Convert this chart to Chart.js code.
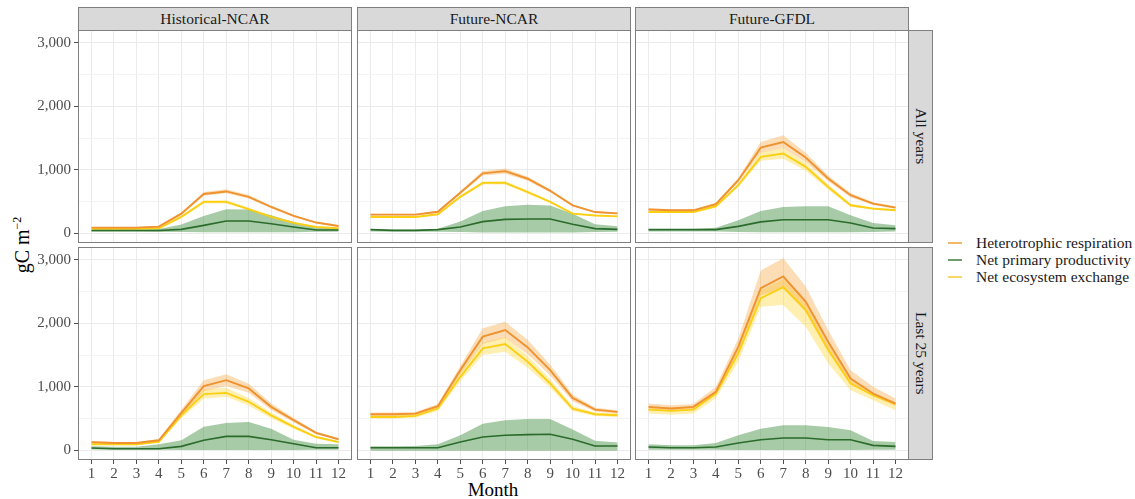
<!DOCTYPE html>
<html>
<head>
<meta charset="utf-8">
<script src="https://cdn.jsdelivr.net/npm/chart.js@4.4.1/dist/chart.umd.min.js"></script>
<style>
  body { margin: 0; background: #fff; font-family: 'Liberation Serif', serif; }
  #wrap { position: relative; width: 1135px; height: 499px; overflow: hidden; font-family: 'Liberation Serif', serif; }
  canvas { position: absolute; }
  .strip { position: absolute; box-sizing: border-box; background: #d9d9d9; border: 1px solid #7f7f7f;
           color: #1a1a1a; font-size: 15.5px; display: flex; align-items: center; justify-content: center; }
  .strip.side { writing-mode: vertical-rl; }
  .legend-item { position: absolute; left: 948px; height: 17px; display: flex; align-items: center;
                 font-family: 'Liberation Serif', serif; font-size: 15.5px; color: #1a1a1a; white-space: nowrap; }
  .legend-item span.key { display: inline-block; width: 14px; height: 2px; margin-right: 14px; }
</style>
</head>
<body>
<div id="wrap">
  <div id="ytitle" style="position:absolute;left:22px;top:245px;transform:translate(-50%,-50%) rotate(-90deg);font-size:20px;color:#000;white-space:nowrap;">gC m<sup style="font-size:12px;">&minus;2</sup></div>
  <div id="xtitle" style="position:absolute;left:493px;top:479px;transform:translateX(-50%);font-size:19px;color:#000;">Month</div>
</div>
<script>
const months = [1, 2, 3, 4, 5, 6, 7, 8, 9, 10, 11, 12];
const yMajor = [0, 1000, 2000, 3000];
const yMinor = [500, 1500, 2500];
const colTitles = ['Historical-NCAR', 'Future-NCAR', 'Future-GFDL'];
const rowTitles = ['All years', 'Last 25 years'];
const seriesNames = ['Heterotrophic respiration', 'Net primary productivity', 'Net ecosystem exchange'];

// Historical-NCAR, all years
const hrHistAll     = [90, 90, 90, 105, 310, 620, 660, 575, 415, 275, 170, 115];
const hrHistAllLo   = [80, 80, 80, 95, 290, 595, 630, 550, 395, 260, 160, 105];
const hrHistAllHi   = [100, 100, 100, 118, 330, 650, 695, 605, 440, 292, 182, 126];
const nppHistAll    = [45, 45, 45, 45, 63, 125, 195, 195, 150, 100, 53, 53];
const nppHistAllLo  = [25, 25, 25, 22, 20, 18, 18, 18, 18, 18, 25, 25];
const nppHistAllHi  = [58, 58, 58, 70, 140, 275, 380, 375, 285, 180, 90, 75];
const neeHistAll    = [70, 70, 70, 80, 260, 495, 495, 380, 260, 165, 100, 80];
const neeHistAllLo  = [60, 60, 60, 70, 240, 470, 470, 360, 245, 152, 90, 70];
const neeHistAllHi  = [80, 80, 80, 92, 280, 520, 520, 402, 276, 178, 110, 90];

// Future-NCAR, all years
const hrFutAll      = [295, 295, 295, 340, 640, 945, 980, 860, 670, 440, 335, 315];
const hrFutAllLo    = [282, 282, 282, 326, 615, 910, 940, 830, 648, 425, 322, 302];
const hrFutAllHi    = [308, 308, 308, 355, 665, 980, 1020, 892, 695, 456, 348, 328];
const nppFutAll     = [58, 47, 47, 58, 100, 185, 220, 226, 226, 142, 74, 63];
const nppFutAllLo   = [30, 25, 25, 25, 20, 15, 15, 15, 15, 15, 20, 25];
const nppFutAllHi   = [62, 55, 55, 74, 185, 350, 425, 450, 440, 310, 142, 110];
const neeFutAll     = [258, 258, 258, 300, 575, 795, 795, 650, 495, 310, 280, 268];
const neeFutAllLo   = [246, 246, 246, 288, 555, 770, 768, 628, 478, 298, 268, 256];
const neeFutAllHi   = [270, 270, 270, 314, 598, 822, 825, 674, 514, 324, 292, 280];

// Future-GFDL, all years
const hrGfdlAll     = [375, 363, 363, 458, 837, 1350, 1437, 1195, 863, 600, 468, 405];
const hrGfdlAllLo   = [358, 348, 348, 440, 805, 1270, 1340, 1120, 820, 570, 448, 388];
const hrGfdlAllHi   = [395, 380, 380, 480, 870, 1440, 1545, 1270, 910, 635, 490, 425];
const nppGfdlAll    = [58, 58, 58, 58, 110, 180, 215, 215, 215, 163, 84, 74];
const nppGfdlAllLo  = [30, 30, 30, 28, 22, 18, 16, 16, 16, 18, 22, 28];
const nppGfdlAllHi  = [68, 68, 68, 90, 205, 353, 416, 426, 426, 284, 163, 126];
const neeGfdlAll    = [337, 337, 337, 426, 758, 1205, 1258, 1047, 731, 442, 390, 363];
const neeGfdlAllLo  = [322, 322, 322, 408, 728, 1145, 1175, 985, 690, 420, 372, 346];
const neeGfdlAllHi  = [352, 352, 352, 445, 790, 1275, 1340, 1110, 775, 465, 408, 380];

// Historical-NCAR, last 25 years
const hrHistLast    = [130, 115, 115, 158, 590, 1010, 1105, 975, 685, 475, 275, 175];
const hrHistLastLo  = [112, 100, 100, 140, 540, 930, 1015, 905, 635, 442, 255, 158];
const hrHistLastHi  = [150, 132, 132, 178, 640, 1105, 1200, 1050, 740, 510, 298, 192];
const nppHistLast   = [37, 26, 26, 26, 63, 158, 220, 220, 168, 105, 42, 42];
const nppHistLastLo = [15, 10, 10, 8, 5, 5, 5, 5, 5, 5, 10, 10];
const nppHistLastHi = [63, 55, 55, 95, 160, 370, 430, 447, 342, 168, 105, 95];
const neeHistLast   = [95, 95, 95, 135, 550, 885, 905, 765, 550, 370, 210, 130];
const neeHistLastLo = [80, 80, 80, 118, 500, 815, 842, 705, 505, 340, 190, 112];
const neeHistLastHi = [112, 110, 110, 152, 600, 960, 985, 825, 595, 400, 230, 148];

// Future-NCAR, last 25 years
const hrFutLast     = [568, 568, 579, 695, 1263, 1790, 1895, 1621, 1263, 826, 642, 605];
const hrFutLastLo   = [542, 542, 552, 662, 1200, 1680, 1770, 1515, 1180, 775, 612, 578];
const hrFutLastHi   = [595, 595, 605, 730, 1330, 1921, 2026, 1737, 1350, 880, 672, 632];
const nppFutLast    = [42, 42, 42, 42, 132, 210, 237, 247, 253, 174, 68, 68];
const nppFutLastLo  = [-5, -5, -5, -5, -5, -5, -5, -5, -5, -5, -5, -5];
const nppFutLastHi  = [63, 63, 70, 95, 237, 420, 474, 492, 495, 330, 150, 125];
const neeFutLast    = [526, 526, 542, 658, 1158, 1605, 1674, 1395, 1053, 658, 568, 553];
const neeFutLastLo  = [500, 500, 515, 625, 1090, 1500, 1553, 1300, 985, 620, 540, 526];
const neeFutLastHi  = [552, 552, 568, 690, 1225, 1700, 1780, 1490, 1120, 700, 595, 580];

// Future-GFDL, last 25 years
const hrGfdlLast    = [684, 658, 684, 921, 1632, 2553, 2737, 2342, 1711, 1132, 895, 737];
const hrGfdlLastLo  = [640, 615, 640, 880, 1550, 2440, 2560, 2180, 1580, 1060, 850, 700];
const hrGfdlLastHi  = [737, 710, 730, 1000, 1760, 2832, 3026, 2579, 1895, 1263, 1000, 816];
const nppGfdlLast   = [53, 42, 42, 53, 116, 168, 195, 195, 168, 168, 79, 63];
const nppGfdlLastLo = [10, 8, 8, 8, 6, 5, 5, 5, 5, 5, 8, 8];
const nppGfdlLastHi = [95, 79, 79, 116, 237, 342, 395, 395, 368, 316, 147, 132];
const neeGfdlLast   = [642, 621, 642, 895, 1526, 2395, 2568, 2211, 1579, 1053, 868, 726];
const neeGfdlLastLo = [579, 560, 580, 820, 1400, 2263, 2290, 1947, 1368, 947, 790, 632];
const neeGfdlLastHi = [690, 665, 690, 940, 1600, 2520, 2700, 2340, 1680, 1120, 905, 760];

const panels = [
  { row: 0, col: 0, hr: [hrHistAll, hrHistAllLo, hrHistAllHi], npp: [nppHistAll, nppHistAllLo, nppHistAllHi], nee: [neeHistAll, neeHistAllLo, neeHistAllHi] },
  { row: 0, col: 1, hr: [hrFutAll, hrFutAllLo, hrFutAllHi], npp: [nppFutAll, nppFutAllLo, nppFutAllHi], nee: [neeFutAll, neeFutAllLo, neeFutAllHi] },
  { row: 0, col: 2, hr: [hrGfdlAll, hrGfdlAllLo, hrGfdlAllHi], npp: [nppGfdlAll, nppGfdlAllLo, nppGfdlAllHi], nee: [neeGfdlAll, neeGfdlAllLo, neeGfdlAllHi] },
  { row: 1, col: 0, hr: [hrHistLast, hrHistLastLo, hrHistLastHi], npp: [nppHistLast, nppHistLastLo, nppHistLastHi], nee: [neeHistLast, neeHistLastLo, neeHistLastHi] },
  { row: 1, col: 1, hr: [hrFutLast, hrFutLastLo, hrFutLastHi], npp: [nppFutLast, nppFutLastLo, nppFutLastHi], nee: [neeFutLast, neeFutLastLo, neeFutLastHi] },
  { row: 1, col: 2, hr: [hrGfdlLast, hrGfdlLastLo, hrGfdlLastHi], npp: [nppGfdlLast, nppGfdlLastLo, nppGfdlLastHi], nee: [neeGfdlLast, neeGfdlLastLo, neeGfdlLastHi] }
];

// series colours: line, ribbon, legend key
const colors = {
  hr:  { line: '#ef9230', fill: 'rgba(246,165,60,0.38)',  key: '#f4b766' },
  npp: { line: '#2b6b2b', fill: 'rgba(60,140,60,0.45)',   key: '#6e9c6e' },
  nee: { line: '#fbcf14', fill: 'rgba(255,212,50,0.38)',  key: '#f8d766' }
};

Chart.defaults.font.family = "'Liberation Serif', serif";

const wrap = document.getElementById('wrap');
const colLeft = [78, 357, 635];
const rowTop = [30, 247];
const panelW = 274, panelH = 213;
const yAxisW = 78, xAxisH = 30;
const M = 14; // spare room round each plot so label overflow never shrinks the chart area

// strips
colTitles.forEach((t, i) => {
  const d = document.createElement('div');
  d.className = 'strip';
  Object.assign(d.style, { left: colLeft[i] + 'px', top: '7px', width: panelW + 'px', height: '24px' });
  d.textContent = t;
  wrap.appendChild(d);
});
rowTitles.forEach((t, i) => {
  const d = document.createElement('div');
  d.className = 'strip side';
  Object.assign(d.style, { left: '908px', top: rowTop[i] + 'px', width: '25px', height: panelH + 'px' });
  d.textContent = t;
  wrap.appendChild(d);
});

// legend
['hr', 'npp', 'nee'].forEach((k, i) => {
  const d = document.createElement('div');
  d.className = 'legend-item';
  d.style.top = (234 + i * 17) + 'px';
  d.innerHTML = '<span class="key" style="background:' + colors[k].key + '"></span>' + seriesNames[i];
  wrap.appendChild(d);
});

const toPts = arr => months.map((m, i) => ({ x: m, y: arr[i] }));

const panelBorder = {
  id: 'panelBorder',
  afterDraw(chart) {
    const { ctx, chartArea: a } = chart;
    ctx.save();
    ctx.strokeStyle = '#7f7f7f';
    ctx.lineWidth = 1;
    ctx.strokeRect(a.left + 0.5, a.top + 0.5, a.width - 1, a.height - 1);
    ctx.restore();
  }
};

const tickFont = { family: "'Liberation Serif', serif", size: 15 };

panels.forEach(p => {
  const leftCol = p.col === 0;
  const bottomRow = p.row === 1;
  const cv = document.createElement('canvas');
  const w = panelW + (leftCol ? yAxisW : 0) + 2 * M;
  const h = panelH + (bottomRow ? xAxisH : 0) + 2 * M;
  cv.width = w; cv.height = h;
  cv.style.left = (colLeft[p.col] - (leftCol ? yAxisW : 0) - M) + 'px';
  cv.style.top = (rowTop[p.row] - M) + 'px';
  wrap.appendChild(cv);

  const datasets = [];
  // lines on top
  ['hr', 'npp', 'nee'].forEach((k, i) => {
    datasets.push({
      label: seriesNames[i], data: toPts(p[k][0]), borderColor: colors[k].line,
      borderWidth: k === 'npp' ? 1.6 : 1.9, pointRadius: 0, fill: false, order: 0
    });
  });
  // ribbons: lower bound then upper bound filled back to it
  ['hr', 'npp', 'nee'].forEach(k => {
    datasets.push({ data: toPts(p[k][1]), borderWidth: 0, borderColor: 'transparent', pointRadius: 0, fill: false, order: 1 });
    datasets.push({ data: toPts(p[k][2]), borderWidth: 0, borderColor: 'transparent', backgroundColor: colors[k].fill, pointRadius: 0, fill: '-1', order: 1 });
  });

  new Chart(cv, {
    type: 'line',
    data: { datasets },
    plugins: [panelBorder],
    options: {
      responsive: false,
      animation: false,
      devicePixelRatio: 1,
      events: [],
      layout: { padding: M },
      plugins: { legend: { display: false }, tooltip: { enabled: false } },
      scales: {
        x: {
          type: 'linear', min: 0.4, max: 12.6,
          afterBuildTicks: axis => { axis.ticks = months.map(v => ({ value: v })); },
          afterFit: s => { s.height = bottomRow ? xAxisH : 0; },
          border: { display: false },
          grid: { color: '#ebebeb', lineWidth: 1, drawTicks: bottomRow, tickLength: 4, tickColor: '#4d4d4d' },
          ticks: { display: bottomRow, autoSkip: false, maxRotation: 0, padding: 1, color: '#4d4d4d', font: tickFont,
                   callback: v => String(v) }
        },
        y: {
          type: 'linear', min: -152, max: 3202,
          afterBuildTicks: axis => { axis.ticks = yMajor.concat(yMinor).sort((a, b) => a - b).map(v => ({ value: v })); },
          afterFit: s => { s.width = leftCol ? yAxisW : 0; },
          border: { display: false },
          grid: {
            color: ctx => yMinor.includes(ctx.tick.value) ? '#f4f4f4' : '#ebebeb',
            lineWidth: 1,
            drawTicks: leftCol, tickLength: 4,
            tickColor: ctx => yMinor.includes(ctx.tick.value) ? 'rgba(0,0,0,0)' : '#4d4d4d'
          },
          ticks: { display: leftCol, autoSkip: false, padding: 3, color: '#4d4d4d', font: tickFont,
                   callback: v => yMajor.includes(v) ? v.toLocaleString('en-US') : '' }
        }
      }
    }
  });
});
</script>
</body>
</html>
